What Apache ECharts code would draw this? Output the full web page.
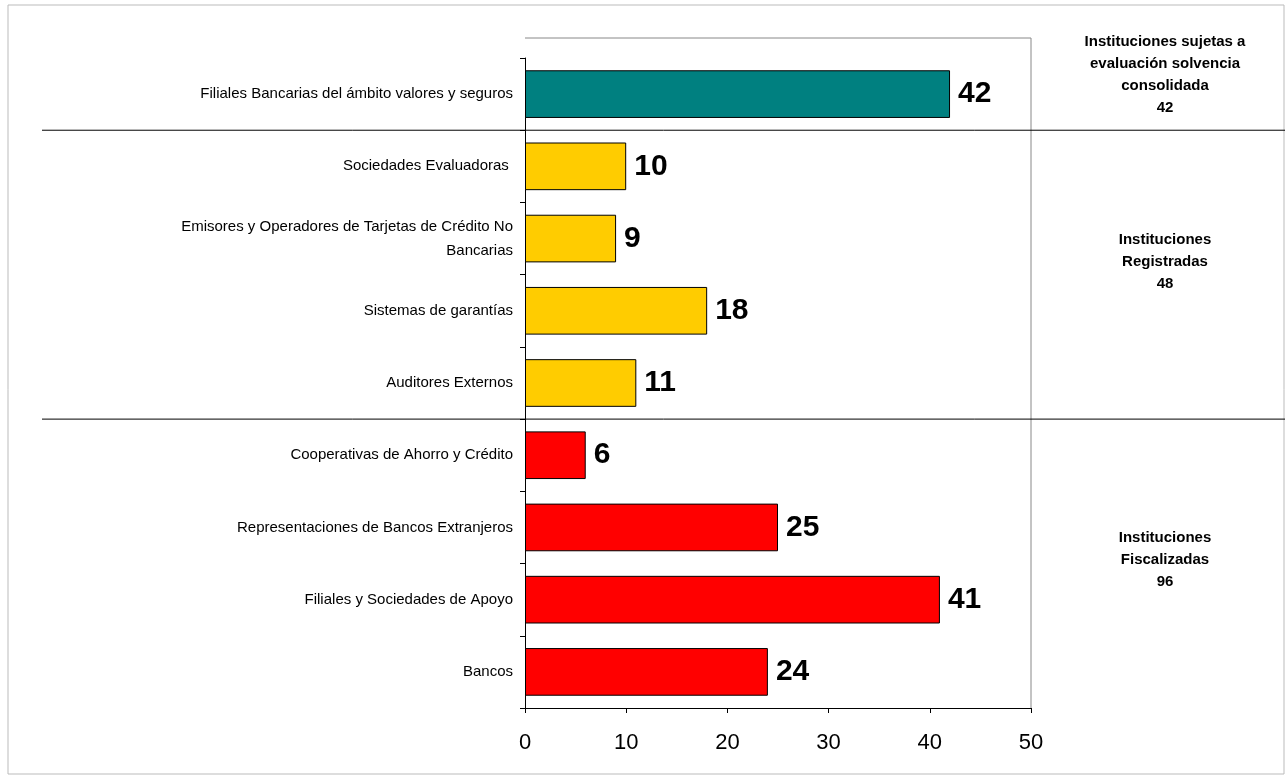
<!DOCTYPE html>
<html><head><meta charset="utf-8">
<script src="https://cdn.jsdelivr.net/npm/echarts@6/dist/echarts.min.js"></script>
<style>html,body{margin:0;background:#fff}#c{width:1285px;height:775px}</style>
</head><body><div id="c"></div>
<script>
const categories = [
  "Bancos",
  "Filiales y Sociedades de Apoyo",
  "Representaciones de Bancos Extranjeros",
  "Cooperativas de Ahorro y Crédito",
  "Auditores Externos",
  "Sistemas de garantías",
  "Emisores y Operadores de Tarjetas de Crédito No\nBancarias",
  "Sociedades Evaluadoras ",
  "Filiales Bancarias del ámbito valores y seguros"
];
const values = [24, 41, 25, 6, 11, 18, 9, 10, 42];
const colors = ["#FF0000", "#FF0000", "#FF0000", "#FF0000", "#FFCC00", "#FFCC00", "#FFCC00", "#FFCC00", "#008080"];
const groups = [
  { text: "Instituciones sujetas a\nevaluación solvencia\nconsolidada\n42", y: 75 },
  { text: "Instituciones\nRegistradas\n48", y: 262 },
  { text: "Instituciones\nFiscalizadas\n96", y: 560 }
];

const chart = echarts.init(document.getElementById("c"));
const font = "Arial, 'Liberation Sans', sans-serif";
chart.setOption({
  animation: false,
  grid: { left: 525, right: 254, top: 58, bottom: 67 },
  xAxis: {
    type: "value", min: 0, max: 50, interval: 10,
    splitLine: { show: false },
    axisLine: { show: true, lineStyle: { color: "#000" } },
    axisTick: { show: true, length: 5, lineStyle: { color: "#000" } },
    axisLabel: { color: "#000", fontSize: 22, fontFamily: font, margin: 24 }
  },
  yAxis: {
    type: "category", data: categories,
    axisLine: { lineStyle: { color: "#000" } },
    axisTick: { show: true, length: 5, lineStyle: { color: "#000" } },
    axisLabel: { color: "#000", fontSize: 15, fontFamily: font, margin: 12, lineHeight: 24, align: "right" }
  },
  series: [{
    type: "bar", barWidth: "66%",
    data: values.map((v, i) => ({ value: v, itemStyle: { color: colors[i] } })),
    itemStyle: { borderColor: "#000", borderWidth: 1 },
    label: { show: true, position: "right", color: "#000", fontSize: 30, fontWeight: "bold", fontFamily: font, distance: 8 }
  }]
});

const x0 = chart.convertToPixel({ xAxisIndex: 0 }, 0);
const x50 = chart.convertToPixel({ xAxisIndex: 0 }, 50);
const yAt = (i) => chart.convertToPixel({ yAxisIndex: 0 }, i);
const band = yAt(0) - yAt(1);
const sep1 = yAt(8) + band / 2;
const sep2 = yAt(4) + band / 2;
const bottom = yAt(0) + band / 2;
chart.setOption({
  graphic: [
    { type: "rect", shape: { x: 8, y: 5, width: 1276, height: 769 }, style: { fill: "none", stroke: "#bbb", lineWidth: 1 } },
    { type: "polyline", shape: { points: [[x0, 38], [x50, 38], [x50, bottom]] }, style: { stroke: "#888", fill: "none", lineWidth: 1 } },
    { type: "line", shape: { x1: 42, y1: sep1, x2: 1285, y2: sep1 }, style: { stroke: "#000", lineWidth: 1 } },
    { type: "line", shape: { x1: 42, y1: sep2, x2: 1285, y2: sep2 }, style: { stroke: "#000", lineWidth: 1 } },
    ...groups.map((g) => ({
      type: "text", x: 1165, y: g.y,
      style: { text: g.text, fill: "#000", font: "bold 15px " + font, align: "center", verticalAlign: "middle", lineHeight: 22 }
    }))
  ]
});
</script></body></html>
